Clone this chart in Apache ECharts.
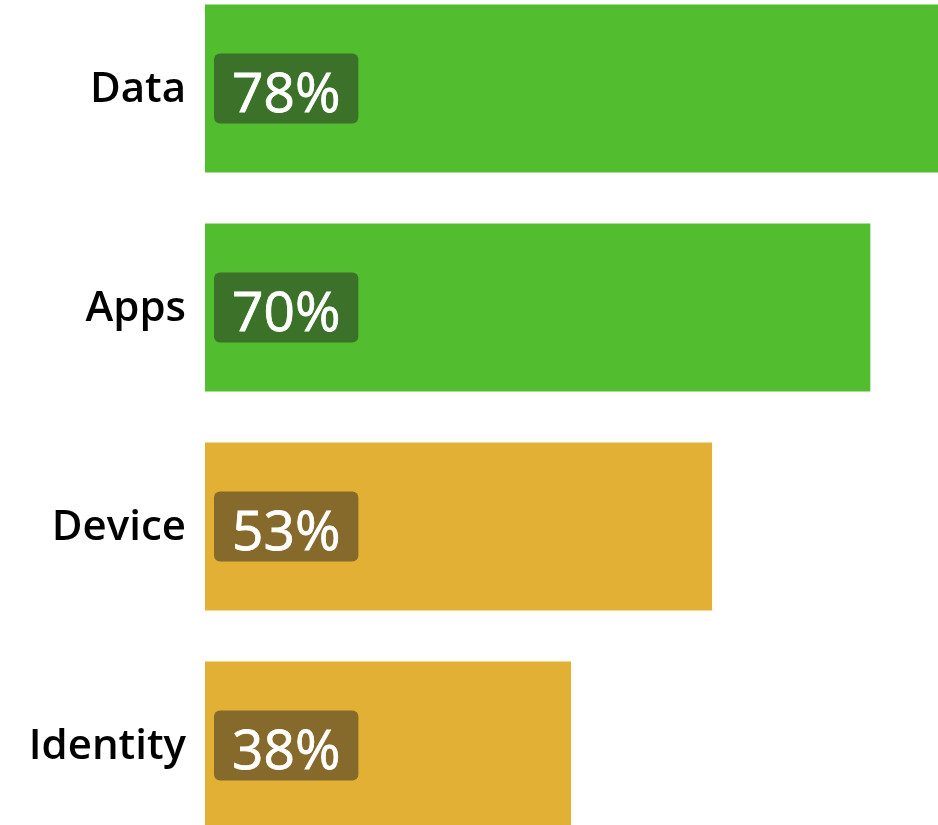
<!DOCTYPE html>
<html>
<head>
<meta charset="utf-8">
<script src="https://cdn.jsdelivr.net/npm/echarts@6/dist/echarts.min.js"></script>
<style>
html,body{margin:0;padding:0;background:#fff;overflow:hidden;width:938px;height:825px;position:relative;}
#chart{position:absolute;left:0;top:-21px;width:938px;height:876px;}
</style>
</head>
<body>
<div id="chart"></div>
<script>
// Categories (top to bottom)
var categories = ['Data', 'Apps', 'Device', 'Identity'];
// Values (labels show rounded percentages)
var values = [78, 69.8, 53.2, 38.4];
// Bar fill colours and label-box colours
var barColors = ['#52BE2F', '#52BE2F', '#E3B036', '#E3B036'];
var boxColors = ['#3B7129', '#3B7129', '#866A2C', '#866A2C'];

var chart = echarts.init(document.getElementById('chart'));
chart.setOption({
  animation: false,
  grid: { left: 205, right: 0, top: 0, bottom: 0, containLabel: false },
  xAxis: {
    type: 'value', min: 0, max: 76.9, show: false
  },
  yAxis: {
    type: 'category', data: categories, inverse: true,
    axisLine: { show: false }, axisTick: { show: false }, splitLine: { show: false },
    axisLabel: {
      margin: 19, color: '#000', fontFamily: 'Open Sans', fontWeight: 600, fontSize: 42,
      formatter: function (v) { return '{c|' + v + '}'; },
      rich: {
        c: { color: '#000', fontFamily: 'Open Sans', fontWeight: 600, fontSize: 42,
             lineHeight: 50, padding: [4, 0, 0, 0] }
      }
    }
  },
  series: [{
    type: 'bar',
    barWidth: 168,
    clip: true,
    data: values.map(function (v, i) {
      return {
        value: v,
        itemStyle: { color: barColors[i] },
        label: { backgroundColor: boxColors[i] }
      };
    }),
    label: {
      show: true,
      position: 'insideLeft',
      distance: 9,
      formatter: function (p) { return '{v|' + Math.round(p.value) + '%}'; },
      padding: [10, 18, 10, 18],
      borderRadius: 6,
      rich: {
        v: {
          color: '#fff',
          fontFamily: 'Open Sans',
          fontSize: 55,
          lineHeight: 50,
          textBorderColor: '#fff',
          textBorderWidth: 0.8,
          padding: [16, 0, 0, 0]
        }
      }
    }
  }]
});
</script>
</body>
</html>
